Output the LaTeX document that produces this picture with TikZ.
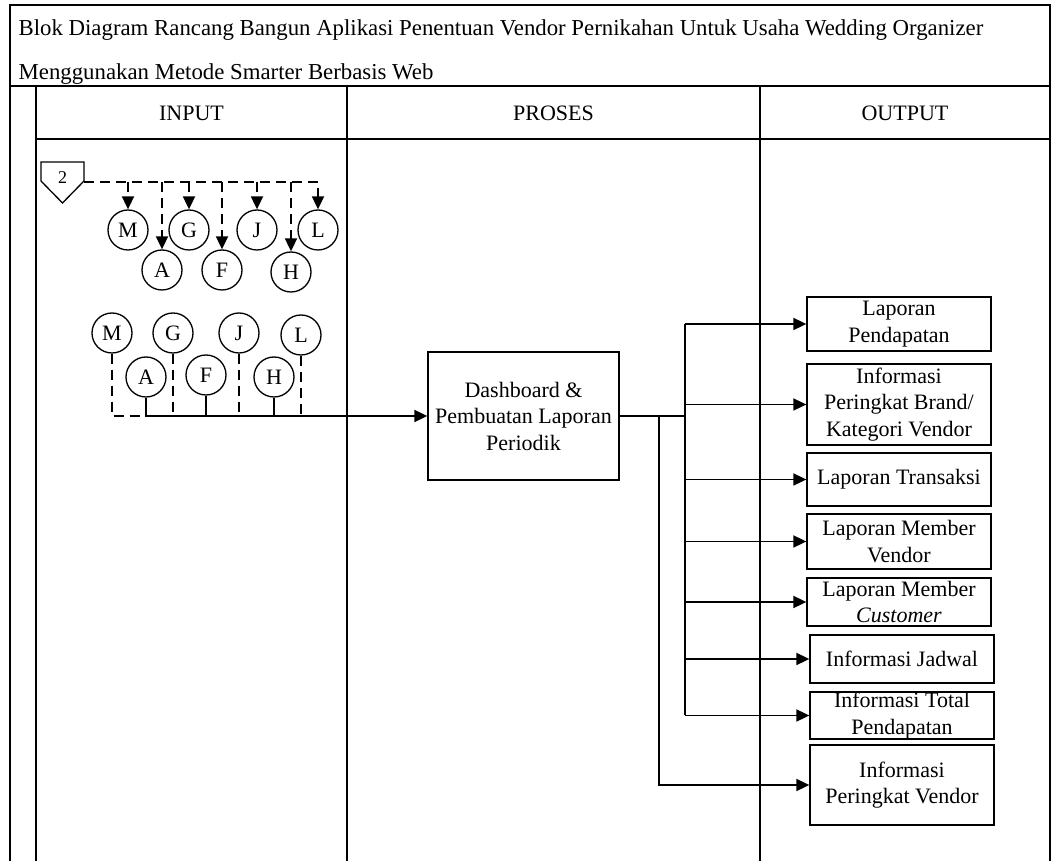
\documentclass[tikz,border=0pt]{standalone}
\usepackage{fontspec}
\setmainfont{Liberation Serif}
\usetikzlibrary{arrows.meta}

\begin{document}
\begin{tikzpicture}[x=0.5pt,y=-0.5pt,
  font=\fontsize{11}{13.25}\selectfont,
  line width=0.65pt,
  garis/.style={line width=0.9pt},
  panah/.style={garis,-{Triangle[length=6.5pt,width=6pt]}},
  putus/.style={garis,dash pattern=on 5pt off 3pt},
  konektor/.style={circle,draw,minimum size=20pt,inner sep=0pt},
  kotak/.style={rectangle,draw,align=center,inner sep=0pt,minimum width=92pt},
  teks/.style={inner sep=0pt,anchor=base west,font=\fontsize{11.4}{13.25}\selectfont}]
  \useasboundingbox (0,0) rectangle (1057,861);

  % bingkai
  \draw (10,861) -- (10,5) -- (1050,5) -- (1050,861);
  \draw (10,86) -- (1050,86);
  \draw (36,86) -- (36,861);
  \draw (36,139) -- (1050,139);
  \draw (347,86) -- (347,861);
  \draw (760,86) -- (760,861);

  \node[teks] (judul1) at (18,36) {Blok Diagram Rancang Bangun Aplikasi Penentuan Vendor Pernikahan Untuk Usaha Wedding Organizer};
  \node[teks] (judul2) at (18,80) {Menggunakan Metode Smarter Berbasis Web};

  \node (hinput) at (191.5,113) {INPUT};
  \node (hproses) at (553.5,113) {PROSES};
  \node (houtput) at (905,113) {OUTPUT};

  % off page connector
  \draw (41,162) -- (84,162) -- (84,181) -- (62.5,203) -- (41,181) -- cycle;
  \node (pg2) at (62.5,178) {\fontsize{9}{9}\selectfont 2};
  \coordinate (pgout) at (84,182);

  \node[konektor] (uM) at (128,230) {M};
  \node[konektor] (uG) at (189,230) {G};
  \node[konektor] (uJ) at (257,230) {J};
  \node[konektor] (uL) at (318,230) {L};
  \node[konektor] (uA) at (162,270) {A};
  \node[konektor] (uF) at (222,270) {F};
  \node[konektor] (uH) at (291,272) {H};

  \draw[putus,panah] (pgout) -| (uL.north);
  \draw[putus,panah] (uM.north |- pgout) -- (uM.north);
  \draw[putus,panah] (uA.north |- pgout) -- (uA.north);
  \draw[putus,panah] (uG.north |- pgout) -- (uG.north);
  \draw[putus,panah] (uF.north |- pgout) -- (uF.north);
  \draw[putus,panah] (uJ.north |- pgout) -- (uJ.north);
  \draw[putus,panah] (uH.north |- pgout) -- (uH.north);

  \node[konektor] (lM) at (112,333) {M};
  \node[konektor] (lG) at (173,333) {G};
  \node[konektor] (lJ) at (239,333) {J};
  \node[konektor] (lL) at (301,335) {L};
  \node[konektor] (lA) at (146,377) {A};
  \node[konektor] (lF) at (206,375) {F};
  \node[konektor] (lH) at (274,377) {H};

  \node[kotak,minimum width=95.5pt,minimum height=64pt] (proses) at (523.5,416) {Dashboard \&\\Pembuatan Laporan\\Periodik};

  \draw[putus] (lM.south) |- (lA.south |- proses.west);
  \draw[putus] (lG.south) -- (lG.south |- proses.west);
  \draw[putus] (lJ.south) -- (lJ.south |- proses.west);
  \draw[putus] (lL.south) -- (lL.south |- proses.west);
  \draw[garis] (lF.south) -- (lF.south |- proses.west);
  \draw[garis] (lH.south) -- (lH.south |- proses.west);
  \draw[panah] (lA.south) |- (proses.west);

  % output
  \node[kotak,minimum height=27pt] (o1) at (899,324) {Laporan\\Pendapatan};
  \node[kotak,minimum height=40.5pt] (o2) at (899,404.5) {Informasi\\Peringkat Brand/\\Kategori Vendor};
  \node[kotak,minimum height=26.5pt] (o3) at (899,479.5) {Laporan Transaksi};
  \node[kotak,minimum height=27.5pt] (o4) at (899,541.5) {Laporan Member\\Vendor};
  \node[kotak,minimum height=24pt] (o5) at (899,602) {Laporan Member\\\textit{Customer}};
  \node[kotak,minimum height=24pt] (o6) at (902,659) {Informasi Jadwal};
  \node[kotak,minimum height=23.5pt] (o7) at (902,715.5) {Informasi Total\\Pendapatan};
  \node[kotak,minimum height=40pt] (o8) at (902,785) {Informasi\\Peringkat Vendor};

  \coordinate (bus1) at (685,323);
  \coordinate (bus2) at (659,416);

  \draw[garis] (proses.east) -- (bus1 |- proses.east);
  \draw[garis] (bus1 |- o1.west) -- (bus1 |- o7.west);
  \draw[panah] (bus1 |- o1.west) -- (o1.west);
  \draw[panah] (bus1 |- o2.west) -- (o2.west);
  \draw[panah] (bus1 |- o3.west) -- (o3.west);
  \draw[panah] (bus1 |- o4.west) -- (o4.west);
  \draw[panah] (bus1 |- o5.west) -- (o5.west);
  \draw[panah] (bus1 |- o6.west) -- (o6.west);
  \draw[panah] (bus1 |- o7.west) -- (o7.west);
  \draw[panah] (bus2 |- proses.east) |- (o8.west);
\end{tikzpicture}
\end{document}
